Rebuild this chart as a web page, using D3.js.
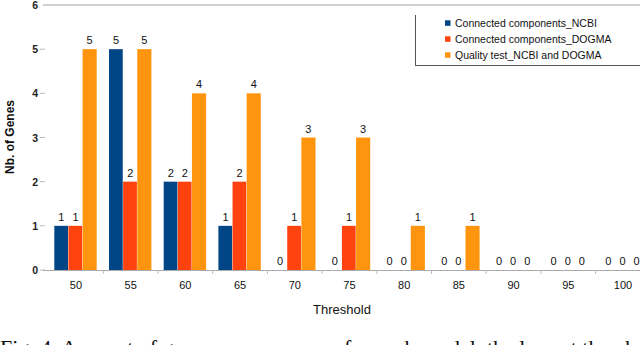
<!DOCTYPE html>
<html>
<head>
<meta charset="utf-8">
<script src="https://cdn.jsdelivr.net/npm/d3@7"></script>
<style>
  html, body { margin: 0; padding: 0; background: #fff; }
  svg { display: block; }
  text { font-family: "Liberation Sans", Arial, sans-serif; }
  text.caption { font-family: "Liberation Serif", "DejaVu Serif", serif; }
</style>
</head>
<body>
<svg id="chart" width="640" height="345"></svg>
<script>
const categories = ["50", "55", "60", "65", "70", "75", "80", "85", "90", "95", "100"];
const seriesNames = ["Connected components_NCBI", "Connected components_DOGMA", "Quality test_NCBI and DOGMA"];
const ncbi    = [1, 5, 2, 1, 0, 0, 0, 0, 0, 0, 0];
const dogma   = [1, 2, 2, 2, 1, 1, 0, 0, 0, 0, 0];
const quality = [5, 5, 4, 4, 3, 3, 1, 1, 0, 0, 0];
const yTicks  = [0, 1, 2, 3, 4, 5, 6];
const colors  = ["#004586", "#ff420e", "#ff950e"];
const captionText = "Fig. 4. Amount of genes versus census for each model, the lowest threshold";

const series = [ncbi, dogma, quality];
const svg = d3.select("#chart");

const x = d3.scaleBand().domain(categories).range([48.6, 650.3]).paddingInner(0).paddingOuter(0);
const inner = d3.scaleBand().domain(d3.range(series.length)).range([0, 42.4]);
const innerOffset = 5.7;
const y = d3.scaleLinear().domain([0, 6]).range([270, 5]);

// top gridline at max
svg.append("line")
  .attr("x1", 43).attr("x2", 640)
  .attr("y1", y(6)).attr("y2", y(6))
  .attr("stroke", "#cfcfcf").attr("stroke-width", 2);

// y axis labels and tick marks
const yg = svg.append("g");
yg.selectAll("text").data(yTicks).join("text")
  .attr("x", 38).attr("y", d => y(d) + 4)
  .attr("text-anchor", "end")
  .attr("font-size", 10.5)
  .attr("font-weight", "bold")
  .attr("fill", "#222")
  .text(d => d);
yg.selectAll("line").data(yTicks.filter(d => d !== 6)).join("line")
  .attr("x1", 40).attr("x2", 45)
  .attr("y1", d => y(d)).attr("y2", d => y(d))
  .attr("stroke", "#bbb").attr("stroke-width", 1);

// bars
const groups = svg.append("g").selectAll("g").data(categories).join("g")
  .attr("transform", d => `translate(${x(d) + innerOffset},0)`);

series.forEach((vals, si) => {
  groups.append("rect")
    .attr("x", inner(si))
    .attr("width", inner.bandwidth() - (si === 2 ? 0 : 0.4))
    .attr("y", (d, i) => y(vals[i]))
    .attr("height", (d, i) => y(0) - y(vals[i]))
    .attr("fill", colors[si]);
  groups.append("text")
    .attr("x", inner(si) + inner.bandwidth() / 2)
    .attr("y", (d, i) => y(vals[i]) - 5)
    .attr("text-anchor", "middle")
    .attr("font-size", 11)
    .attr("fill", "#111")
    .text((d, i) => vals[i]);
});

// x axis baseline
svg.append("line")
  .attr("x1", 43).attr("x2", 640)
  .attr("y1", y(0) + 0.5).attr("y2", y(0) + 0.5)
  .attr("stroke", "#aaa").attr("stroke-width", 1);

// x axis tick marks at category boundaries
svg.append("g").selectAll("line").data(categories.slice(1)).join("line")
  .attr("x1", d => x(d)).attr("x2", d => x(d))
  .attr("y1", y(0)).attr("y2", y(0) + 4)
  .attr("stroke", "#bbb");

// x labels
svg.append("g").selectAll("text").data(categories).join("text")
  .attr("x", d => x(d) + x.bandwidth() / 2)
  .attr("y", 289)
  .attr("text-anchor", "middle")
  .attr("font-size", 11)
  .attr("fill", "#111")
  .text(d => d);

// axis titles
svg.append("text")
  .attr("x", 342).attr("y", 314)
  .attr("text-anchor", "middle")
  .attr("font-size", 13)
  .attr("fill", "#111")
  .text("Threshold");

svg.append("text")
  .attr("transform", "translate(14,137) rotate(-90)")
  .attr("text-anchor", "middle")
  .attr("font-size", 12)
  .attr("font-weight", "bold")
  .attr("fill", "#111")
  .text("Nb. of Genes");

// legend
const lg = svg.append("g");
lg.append("rect").attr("x", 415).attr("y", 14).attr("width", 230).attr("height", 51)
  .attr("fill", "#fff");
lg.append("line").attr("x1", 415.5).attr("x2", 415.5).attr("y1", 15).attr("y2", 65.5)
  .attr("stroke", "#555");
lg.append("line").attr("x1", 415).attr("x2", 640).attr("y1", 65.5).attr("y2", 65.5)
  .attr("stroke", "#555");
const items = lg.selectAll("g.item").data(seriesNames).join("g")
  .attr("class", "item")
  .attr("transform", (d, i) => `translate(445,${23.3 + i * 16})`);
items.append("rect").attr("x", 0).attr("y", -3).attr("width", 5.5).attr("height", 5.5)
  .attr("fill", (d, i) => colors[i]);
items.append("text").attr("x", 10).attr("y", 4)
  .attr("font-size", 10.5).attr("fill", "#111")
  .text(d => d);

// caption of the figure, cut by the bottom edge as in the reference
svg.append("text")
  .attr("class", "caption")
  .attr("x", 0).attr("y", 355)
  .attr("font-size", 22)
  .attr("fill", "#111")
  .text(captionText);
</script>
</body>
</html>
